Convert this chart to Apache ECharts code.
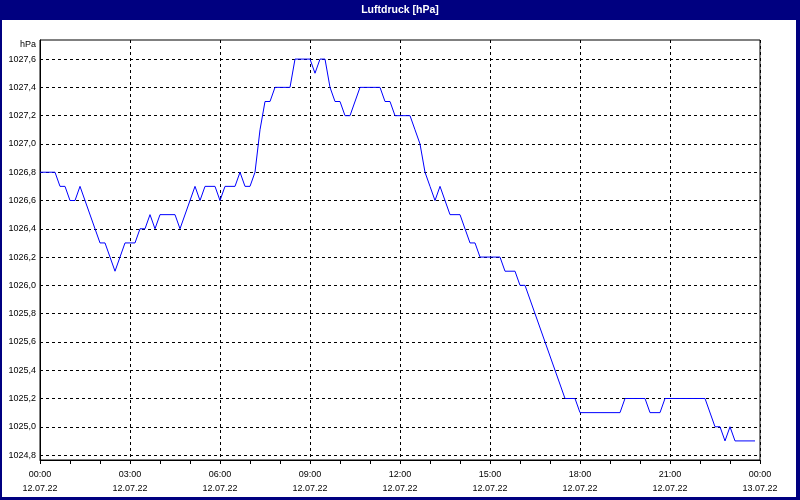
<!DOCTYPE html>
<html>
<head>
<meta charset="utf-8">
<script src="https://cdn.jsdelivr.net/npm/echarts@6/dist/echarts.min.js"></script>
<style>
html,body{margin:0;padding:0;background:#ffffff;}
#chart{width:800px;height:500px;}
</style>
</head>
<body>
<div id="chart"></div>
<script>
// Data: vertices of the pressure curve (time of day, hPa)
var times = ["00:00","00:30","00:40","00:50","01:00","01:10","01:20","02:00","02:10","02:30","02:50","03:10","03:20","03:30","03:40","03:50","04:00","04:30","04:40","05:10","05:20","05:30","05:50","06:00","06:10","06:30","06:40","06:50","07:00","07:10","07:20","07:30","07:40","07:50","08:20","08:30","09:00","09:10","09:20","09:30","09:40","09:50","10:00","10:10","10:20","10:40","11:20","11:30","11:40","11:50","12:20","12:30","12:40","12:50","13:00","13:10","13:20","13:40","14:00","14:20","14:30","14:40","15:20","15:30","15:50","16:00","16:10","17:30","17:50","18:00","19:20","19:30","20:10","20:20","20:40","20:50","22:10","22:30","22:40","22:50","23:00","23:10","23:50"];
var pressure = [1026.8,1026.8,1026.7,1026.7,1026.6,1026.6,1026.7,1026.3,1026.3,1026.1,1026.3,1026.3,1026.4,1026.4,1026.5,1026.4,1026.5,1026.5,1026.4,1026.7,1026.6,1026.7,1026.7,1026.6,1026.7,1026.7,1026.8,1026.7,1026.7,1026.8,1027.1,1027.3,1027.3,1027.4,1027.4,1027.6,1027.6,1027.5,1027.6,1027.6,1027.4,1027.3,1027.3,1027.2,1027.2,1027.4,1027.4,1027.3,1027.3,1027.2,1027.2,1027.1,1027.0,1026.8,1026.7,1026.6,1026.7,1026.5,1026.5,1026.3,1026.3,1026.2,1026.2,1026.1,1026.1,1026.0,1026.0,1025.2,1025.2,1025.1,1025.1,1025.2,1025.2,1025.1,1025.1,1025.2,1025.2,1025.0,1025.0,1024.9,1025.0,1024.9,1024.9];
var yTicks = [1024.8,1025.0,1025.2,1025.4,1025.6,1025.8,1026.0,1026.2,1026.4,1026.6,1026.8,1027.0,1027.2,1027.4,1027.6];
var xTickLabels = ["00:00\n12.07.22","03:00\n12.07.22","06:00\n12.07.22","09:00\n12.07.22","12:00\n12.07.22","15:00\n12.07.22","18:00\n12.07.22","21:00\n12.07.22","00:00\n13.07.22"];
var titleText = "Luftdruck [hPa]";
var unitText = "hPa";

function toHours(s){ var p = s.split(":"); return (+p[0]) + (+p[1])/60; }
var seriesData = times.map(function(t,i){ return [toHours(t), pressure[i]]; });

var FONT = "Liberation Sans";
var navy = "#000080";
var chart = echarts.init(document.getElementById('chart'), null, {renderer:'canvas'});
chart.setOption({
  animation: false,
  backgroundColor: '#ffffff',
  title: {
    text: titleText, left: 'center', top: 4, padding: 0,
    textStyle: {color:'#ffffff', fontFamily: FONT, fontSize: 10.5, fontWeight:'bold', lineHeight: 12}
  },
  graphic: [
    {type:'rect', shape:{x:0,y:0,width:800,height:20}, style:{fill:navy}, z:-1, silent:true},
    {type:'rect', shape:{x:0,y:0,width:2,height:500}, style:{fill:navy}, z:-1, silent:true},
    {type:'rect', shape:{x:796,y:0,width:4,height:500}, style:{fill:navy}, z:-1, silent:true},
    {type:'rect', shape:{x:0,y:497,width:800,height:3}, style:{fill:navy}, z:-1, silent:true}
  ],
  grid: {left:40, right:40, top:40, bottom:40, show:true, borderColor:'#000', borderWidth:1, backgroundColor:'transparent'},
  xAxis: {
    type:'value', min:0, max:24, interval:3,
    axisLine:{show:true, lineStyle:{color:'#000', width:1}},
    axisTick:{show:true, length:4, lineStyle:{color:'#000'}},
    minorTick:{show:true, splitNumber:3, length:4, lineStyle:{color:'#000'}},
    splitLine:{show:true, lineStyle:{color:'#000', type:[3,3], width:1}},
    axisLabel:{
      color:'#000', fontFamily:FONT, fontSize:9, lineHeight:14.5, margin:7,
      formatter:function(v){ return xTickLabels[Math.round(v/3)]; }
    }
  },
  yAxis: {
    type:'value', min:1024.765, max:1027.735,
    name: unitText, nameLocation:'end', nameGap:-5,
    nameTextStyle:{color:'#000', fontFamily:FONT, fontSize:9, align:'right', verticalAlign:'middle', padding:[0,4,0,0]},
    axisLine:{show:true, lineStyle:{color:'#000', width:1}},
    axisTick:{show:false, customValues: yTicks},
    splitLine:{show:true, lineStyle:{color:'#000', type:[3,3], width:1}},
    axisLabel:{
      color:'#000', fontFamily:FONT, fontSize:9, margin:4, customValues: yTicks,
      formatter:function(v){ return v.toFixed(1).replace('.', ','); }
    }
  },
  series: [{
    type:'line', data: seriesData, showSymbol:false, symbol:'none',
    lineStyle:{color:'#0000ff', width:1}, clip:true
  }]
});
</script>
</body>
</html>
